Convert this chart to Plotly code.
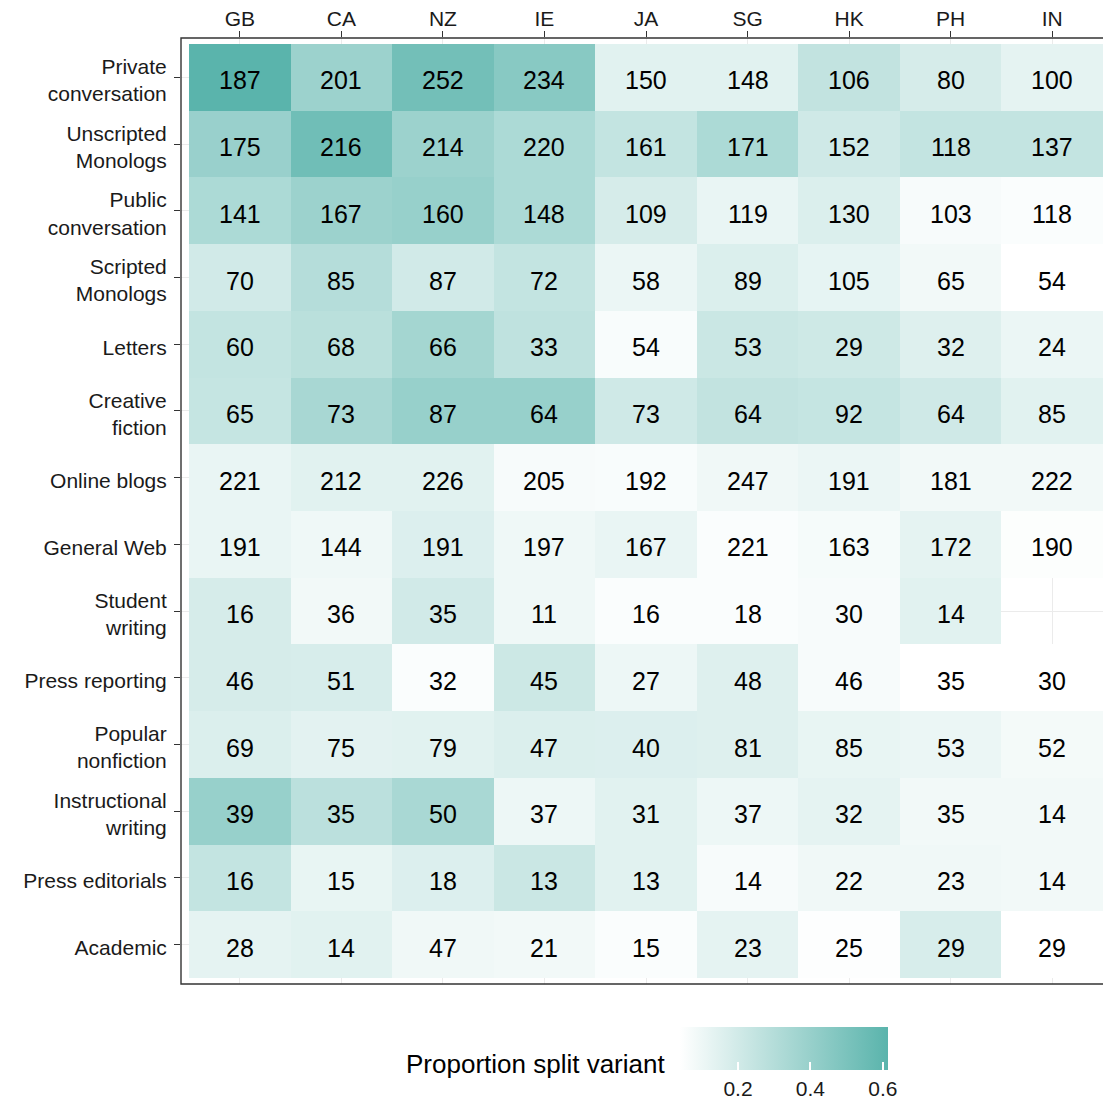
import plotly.graph_objects as go

# ---------------- data ----------------
countries = ["GB", "CA", "NZ", "IE", "JA", "SG", "HK", "PH", "IN"]
registers = [
    "Private<br>conversation", "Unscripted<br>Monologs", "Public<br>conversation",
    "Scripted<br>Monologs", "Letters", "Creative<br>fiction", "Online blogs",
    "General Web", "Student<br>writing", "Press reporting", "Popular<br>nonfiction",
    "Instructional<br>writing", "Press editorials", "Academic",
]
counts = [
    [187, 201, 252, 234, 150, 148, 106, 80, 100],
    [175, 216, 214, 220, 161, 171, 152, 118, 137],
    [141, 167, 160, 148, 109, 119, 130, 103, 118],
    [70, 85, 87, 72, 58, 89, 105, 65, 54],
    [60, 68, 66, 33, 54, 53, 29, 32, 24],
    [65, 73, 87, 64, 73, 64, 92, 64, 85],
    [221, 212, 226, 205, 192, 247, 191, 181, 222],
    [191, 144, 191, 197, 167, 221, 163, 172, 190],
    [16, 36, 35, 11, 16, 18, 30, 14, None],
    [46, 51, 32, 45, 27, 48, 46, 35, 30],
    [69, 75, 79, 47, 40, 81, 85, 53, 52],
    [39, 35, 50, 37, 31, 37, 32, 35, 14],
    [16, 15, 18, 13, 13, 14, 22, 23, 14],
    [28, 14, 47, 21, 15, 23, 25, 29, 29],
]
proportion = [
    [0.614, 0.384, 0.528, 0.453, 0.143, 0.143, 0.252, 0.184, 0.132],
    [0.396, 0.539, 0.384, 0.327, 0.247, 0.327, 0.206, 0.247, 0.247],
    [0.327, 0.384, 0.402, 0.327, 0.184, 0.115, 0.166, 0.069, 0.057],
    [0.201, 0.298, 0.201, 0.247, 0.109, 0.166, 0.126, 0.086, 0.040],
    [0.247, 0.281, 0.356, 0.264, 0.063, 0.224, 0.212, 0.155, 0.109],
    [0.241, 0.344, 0.402, 0.402, 0.206, 0.252, 0.241, 0.206, 0.143],
    [0.115, 0.143, 0.143, 0.069, 0.063, 0.092, 0.109, 0.086, 0.086],
    [0.115, 0.097, 0.161, 0.097, 0.115, 0.057, 0.074, 0.132, 0.051],
    [0.184, 0.086, 0.201, 0.097, 0.057, 0.057, 0.069, 0.143, None],
    [0.184, 0.178, 0.057, 0.218, 0.103, 0.155, 0.069, 0.040, 0.040],
    [0.166, 0.138, 0.143, 0.166, 0.161, 0.155, 0.120, 0.109, 0.080],
    [0.402, 0.275, 0.338, 0.103, 0.143, 0.103, 0.132, 0.086, 0.086],
    [0.247, 0.120, 0.161, 0.224, 0.143, 0.069, 0.092, 0.092, 0.086],
    [0.132, 0.143, 0.092, 0.086, 0.057, 0.132, 0.046, 0.178, 0.040],
]
colorbar_ticks = [0.2, 0.4, 0.6]
colorbar_title = "Proportion split variant"

# ---------------- layout constants ----------------
W, H = 1103, 1103
ML, MT, MB, MR = 181, 38, 119, 0
PW, PH = W - ML - MR, H - MT - MB
FONT = "Liberation Sans, Arial, Helvetica, sans-serif"
LOW, HIGH = "#FFFFFF", "#5AB4AC"
TXT = "#1a1a1a"

def px_x(p):
    return (p - ML) / PW

def px_y(p):
    return (H - MB - p) / PH

flat = [v for row in proportion for v in row if v is not None]
zmin, zmax = min(flat), max(flat)

cb_left, cb_len, cb_top, cb_thick = 680, 208, 1027, 43

fig = go.Figure(go.Heatmap(
    z=proportion,
    x=countries,
    y=registers,
    colorscale=[[0, LOW], [1, HIGH]],
    zmin=zmin, zmax=zmax,
    xgap=0, ygap=0,
    hoverongaps=False,
    colorbar=dict(
        orientation="h",
        thicknessmode="pixels", thickness=cb_thick,
        lenmode="pixels", len=cb_len,
        x=px_x(cb_left + cb_len / 2), xanchor="center",
        y=px_y(cb_top), yanchor="top",
        xpad=0, ypad=0,
        outlinewidth=0,
        tickvals=colorbar_ticks,
        ticktext=[f"{t:.1f}" for t in colorbar_ticks],
        ticks="inside", ticklen=8, tickwidth=1.5, tickcolor="white",
        tickfont=dict(size=21, color=TXT, family=FONT),
    ),
))

# cell labels (counts)
annotations = []
for r, reg in enumerate(registers):
    for c, ctry in enumerate(countries):
        v = counts[r][c]
        if v is None:
            continue
        annotations.append(dict(x=ctry, y=reg, xref="x", yref="y", text=str(v),
                                showarrow=False, yshift=-3,
                                font=dict(size=25, color="#000000", family=FONT)))
annotations.append(dict(text=colorbar_title, xref="paper", yref="paper",
                        x=px_x(667), y=px_y(1064), xanchor="right", yanchor="middle",
                        showarrow=False, font=dict(size=26, color="#000000", family=FONT)))

# top white ticks on the colorbar
shapes = []
for t in colorbar_ticks:
    xp = cb_left + (t - zmin) / (zmax - zmin) * cb_len
    shapes.append(dict(type="line", xref="paper", yref="paper",
                       x0=px_x(xp), x1=px_x(xp), y0=px_y(cb_top), y1=px_y(cb_top + 8),
                       line=dict(color="white", width=1.5), layer="above"))
# panel frame (right side lies beyond the window)
shapes.append(dict(type="rect", xref="paper", yref="paper",
                   x0=0, x1=px_x(1111), y0=0, y1=1,
                   line=dict(color="#333333", width=1.4), fillcolor="rgba(0,0,0,0)",
                   layer="above"))

n_rows = len(registers)
fig.update_layout(
    width=W, height=H,
    margin=dict(l=ML, r=MR, t=MT, b=MB, autoexpand=False),
    paper_bgcolor="white", plot_bgcolor="white",
    font=dict(family=FONT, color=TXT),
    shapes=shapes,
    annotations=annotations,
    xaxis=dict(
        type="category", side="top", range=[-0.579, len(countries) - 0.5],
        showgrid=True, gridcolor="#EBEBEB", gridwidth=1.2, zeroline=False,
        ticks="outside", ticklen=6, tickwidth=1.3, tickcolor="#333333",
        tickfont=dict(size=21, color=TXT, family=FONT),
        ticklabelstandoff=-3,
        showline=False,
    ),
    yaxis=dict(
        type="category", range=[n_rows - 0.5 + 0.09, -0.59],
        showgrid=True, gridcolor="#EBEBEB", gridwidth=1.2, zeroline=False,
        ticks="outside", ticklen=6, tickwidth=1.3, tickcolor="#333333",
        tickfont=dict(size=21, color=TXT, family=FONT),
        ticklabelstandoff=3,
        ticklabelshift=-3,
        showline=False,
    ),
)

fig.write_html(
    "out.html",
    config={"displayModeBar": False},
    post_script=(
        "document.documentElement.style.margin='0';"
        "document.body.style.margin='0';"
        "document.documentElement.style.overflow='hidden';"
        "document.body.style.overflow='hidden';"
    ),
)
